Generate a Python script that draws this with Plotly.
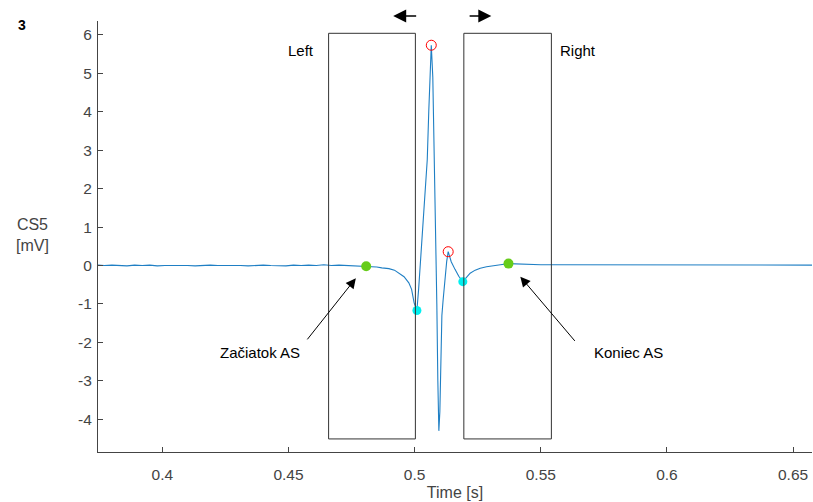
import plotly.graph_objects as go

# ---- data ----
time_s = [0.3745, 0.377, 0.380, 0.383, 0.386, 0.389, 0.392, 0.395, 0.398, 0.401,
          0.404, 0.407, 0.410, 0.413, 0.416, 0.419, 0.422, 0.425, 0.428, 0.431,
          0.434, 0.437, 0.440, 0.443, 0.446, 0.449, 0.452, 0.455, 0.458, 0.461,
          0.464, 0.467, 0.470, 0.473, 0.476, 0.4785, 0.4808, 0.483, 0.485, 0.487,
          0.4898, 0.492, 0.4938, 0.4958, 0.4977, 0.4988, 0.4998, 0.5004, 0.5009,
          0.5016, 0.5030, 0.5042, 0.5050, 0.5056, 0.5062, 0.5066, 0.5072, 0.5078,
          0.5083, 0.5088, 0.5092, 0.5096, 0.5100, 0.5104, 0.5108, 0.5113, 0.5120,
          0.5127, 0.5133, 0.5145, 0.5160, 0.5175, 0.5191, 0.5205, 0.5220, 0.5240,
          0.5260, 0.5285, 0.5310, 0.5340, 0.5372, 0.5400, 0.5450, 0.5500, 0.5550,
          0.5600, 0.5700, 0.5800, 0.5900, 0.6000, 0.6100, 0.6200, 0.6300, 0.6400,
          0.6500, 0.6575]
cs5_mv = [0.01, 0.00, 0.01, 0.00, -0.01, 0.01, 0.00, 0.01, -0.01, 0.00,
          0.00, 0.01, 0.00, -0.01, 0.00, 0.01, 0.00, 0.00, 0.01, 0.00,
          -0.01, 0.00, 0.01, 0.00, 0.00, -0.01, 0.01, 0.00, 0.01, 0.00,
          0.02, 0.00, 0.01, 0.00, -0.01, -0.01, -0.02, -0.03, -0.04, -0.06,
          -0.08, -0.12, -0.19, -0.29, -0.45, -0.62, -0.97, -1.10, -1.17,
          -0.60, 0.80, 2.00, 2.75, 4.00, 5.20, 5.73, 4.90, 3.00,
          1.00, -1.00, -3.00, -4.30, -3.80, -2.20, -1.30, -0.89, -0.30,
          0.10, 0.36, 0.10, -0.10, -0.28, -0.42, -0.30, -0.20, -0.12,
          -0.07, -0.03, 0.00, 0.02, 0.05, 0.04, 0.03, 0.02, 0.02,
          0.02, 0.01, 0.02, 0.01, 0.01, 0.02, 0.01, 0.01, 0.01,
          0.01, 0.01]

peak_t = [0.5066, 0.5133]
peak_v = [5.73, 0.36]
limit_t = [0.5009, 0.5191]
limit_v = [-1.17, -0.42]
as_t = [0.4808, 0.5372]
as_v = [-0.02, 0.05]

box_x0 = [0.4659, 0.5195]
box_x1 = [0.5003, 0.5542]
box_y0 = [-4.51, -4.51]
box_y1 = [6.04, 6.04]
box_labels = ["Left", "Right"]
box_label_x = [0.4551, 0.5648]

x_ticks = [0.4, 0.45, 0.5, 0.55, 0.6, 0.65]
y_ticks = [-4, -3, -2, -1, 0, 1, 2, 3, 4, 5, 6]

FONT = "Liberation Sans, Arial, sans-serif"
AX = "#444444"

# plot-area geometry in pixels (for outside-the-axes text)
W, H = 813, 502
ML, MR, MT, MB = 98, 1, 21, 50
PW, PH = W - ML - MR, H - MT - MB


def px_x(px):
    return (px - ML) / PW


def px_y(py):
    return (H - MB - py) / PH


fig = go.Figure()
fig.add_trace(go.Scatter(x=time_s, y=cs5_mv, mode="lines",
                         line=dict(color="#1f7fc4", width=1.1), showlegend=False,
                         hoverinfo="skip"))
fig.add_trace(go.Scatter(x=peak_t, y=peak_v, mode="markers", showlegend=False,
                         marker=dict(symbol="circle-open", size=10, color="red",
                                     line=dict(width=1, color="red"))))
fig.add_trace(go.Scatter(x=limit_t, y=limit_v, mode="markers", showlegend=False,
                         marker=dict(symbol="circle", size=9, color="#00F0F0")))
fig.add_trace(go.Scatter(x=as_t, y=as_v, mode="markers", showlegend=False,
                         marker=dict(symbol="circle", size=10, color="#66CC1A")))

for x0, x1, y0, y1 in zip(box_x0, box_x1, box_y0, box_y1):
    fig.add_shape(type="rect", x0=x0, x1=x1, y0=y0, y1=y1, xref="x", yref="y",
                  line=dict(color="#333333", width=1))

ann = []
for lbl, lx in zip(box_labels, box_label_x):
    ann.append(dict(x=lx, y=5.6, xref="x", yref="y", text=lbl, showarrow=False,
                    font=dict(family=FONT, size=15, color="#000000")))

# pointer arrows
ann.append(dict(x=0.4767, y=-0.33, ax=0.4570, ay=-1.96, xref="x", yref="y",
                axref="x", ayref="y", text="", showarrow=True, arrowhead=2,
                arrowsize=2, arrowwidth=1, arrowcolor="#000000"))
ann.append(dict(x=0.5419, y=-0.29, ax=0.5640, ay=-2.00, xref="x", yref="y",
                axref="x", ayref="y", text="", showarrow=True, arrowhead=2,
                arrowsize=2, arrowwidth=1, arrowcolor="#000000"))
ann.append(dict(x=0.4386, y=-2.25, xref="x", yref="y", text="Začiatok AS",
                showarrow=False, font=dict(family=FONT, size=15, color="#000000")))
ann.append(dict(x=0.5846, y=-2.25, xref="x", yref="y", text="Koniec AS",
                showarrow=False, font=dict(family=FONT, size=15, color="#000000")))

# direction arrows above the plot
ann.append(dict(x=0.4915, y=px_y(16), ax=0.5012, ay=px_y(16), xref="x",
                yref="y domain", axref="x", ayref="y domain", text="",
                showarrow=True, arrowhead=2, arrowsize=2, arrowwidth=1.3,
                arrowcolor="#000000"))
ann.append(dict(x=0.5304, y=px_y(16), ax=0.5212, ay=px_y(16), xref="x",
                yref="y domain", axref="x", ayref="y domain", text="",
                showarrow=True, arrowhead=2, arrowsize=2, arrowwidth=1.3,
                arrowcolor="#000000"))

# panel number and y label
ann.append(dict(x=px_x(22), y=px_y(25), xref="paper", yref="paper", text="<b>3</b>",
                showarrow=False, xanchor="center", yanchor="middle",
                font=dict(family=FONT, size=14, color="#000000")))
ann.append(dict(x=px_x(32), y=px_y(235), xref="paper", yref="paper",
                text="CS5<br>[mV]", showarrow=False, xanchor="center",
                yanchor="middle", align="center",
                font=dict(family=FONT, size=16, color=AX)))

fig.update_layout(
    width=W, height=H,
    margin=dict(l=ML, r=MR, t=MT, b=MB),
    paper_bgcolor="white", plot_bgcolor="white",
    font=dict(family=FONT, size=15, color=AX),
    xaxis=dict(range=[0.3745, 0.6575], tickvals=x_ticks,
               ticktext=[f"{v:g}" for v in x_ticks],
               ticks="inside", ticklen=5, tickcolor=AX, showline=True,
               linecolor=AX, linewidth=1, showgrid=False, zeroline=False,
               ticklabelstandoff=8,
               title=dict(text="Time [s]", font=dict(size=16, color=AX), standoff=5),
               tickfont=dict(size=15.5, color=AX)),
    yaxis=dict(range=[-4.85, 6.36], tickvals=y_ticks,
               ticktext=[f"{v:g}" for v in y_ticks],
               ticks="inside", ticklen=5, tickcolor=AX, showline=True,
               linecolor=AX, linewidth=1, showgrid=False, zeroline=False,
               ticklabelstandoff=2,
               tickfont=dict(size=15.5, color=AX)),
    annotations=ann,
)

fig.write_html("out.html")
